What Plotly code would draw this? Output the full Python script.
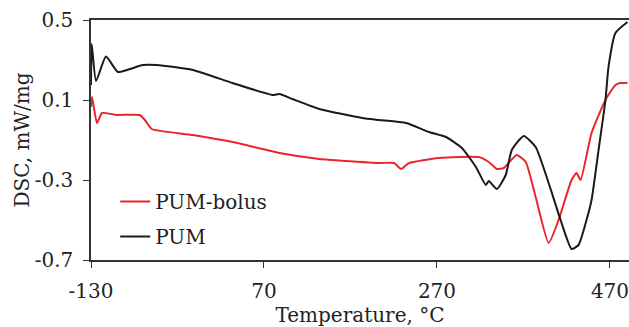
import plotly.graph_objects as go

# PUM (black)
pum_t = [-130, -129.2, -124.2, -112.7, -98.9, -85, -70.1, -53.9, -12.4, 33.7, 79.8, 87.9, 102.9,
         134, 183.5, 203.1, 234.3, 260.8, 280.4, 298.8, 315.0, 326.5, 329.9, 339.2, 349.5, 356.5,
         370.3, 384.1, 399.1, 412.9, 425.6, 433.7, 442.9, 448.7, 456.8, 464.8, 468.3, 476.3, 490.2]
pum_v = [0.175, 0.38, 0.195, 0.317, 0.24, 0.255, 0.275, 0.275, 0.25, 0.185, 0.125, 0.13, 0.105,
         0.055, 0.01, 0.0, -0.015, -0.06, -0.085, -0.14, -0.235, -0.325, -0.305, -0.345, -0.275,
         -0.15, -0.08, -0.135, -0.315, -0.5, -0.645, -0.625, -0.5, -0.4, -0.15, 0.1, 0.265, 0.435,
         0.49]

# PUM-bolus (red)
bolus_t = [-130, -128.8, -123.1, -117.3, -100, -73.5, -67.7, -59.7, -12.4, 33.7, 87.9, 134, 149,
           203.1, 220.4, 228.5, 237.7, 272.3, 318.4, 329.9, 339.2, 347.2, 362.2, 372.6, 384.1,
           399.1, 410.6, 425.6, 431.4, 436.0, 448.7, 464.8, 476.3, 482, 490.2]
bolus_v = [0.065, 0.115, -0.015, 0.035, 0.025, 0.025, 0.0, -0.045, -0.075, -0.11, -0.165, -0.195,
           -0.2, -0.215, -0.215, -0.245, -0.215, -0.19, -0.185, -0.21, -0.245, -0.24, -0.175,
           -0.21, -0.385, -0.615, -0.5, -0.3, -0.265, -0.3, -0.065, 0.1, 0.175, 0.185, 0.185]

x_ticks = [-130, 70, 270, 470]
y_ticks = [0.5, 0.1, -0.3, -0.7]
y_tick_text = ["0.5", "0.1", "-0.3", "-0.7"]

font_family = "DejaVu Serif, Liberation Serif, serif"

fig = go.Figure()
fig.add_trace(go.Scatter(x=bolus_t, y=bolus_v, mode="lines", name="PUM-bolus",
                         line=dict(color="#e8262b", width=2, shape="spline", smoothing=0.5),
                         legendgroup="a"))
fig.add_trace(go.Scatter(x=pum_t, y=pum_v, mode="lines", name="PUM",
                         line=dict(color="#1a1a1a", width=2, shape="spline", smoothing=0.5),
                         legendgroup="b"))

fig.update_layout(
    width=629, height=327,
    margin=dict(l=91, r=0, t=20, b=67),
    paper_bgcolor="white", plot_bgcolor="white",
    font=dict(family=font_family, size=20, color="#222"),
    showlegend=True,
    legend=dict(x=0.045, y=0.325, xanchor="left", yanchor="top", bgcolor="rgba(0,0,0,0)",
                tracegroupgap=6, font=dict(size=20)),
    xaxis=dict(range=[-130, 492], tickvals=x_ticks, ticktext=[str(v) for v in x_ticks],
               showgrid=False, zeroline=False, showline=True, linecolor="#333", linewidth=1.5,
               mirror=True, ticks="outside", ticklen=6, tickcolor="#333",
               ticklabelstandoff=6, ticklabeloverflow="allow",
               title=dict(text="Temperature, °C", standoff=2, font=dict(size=20))),
    yaxis=dict(range=[-0.7, 0.5], tickvals=y_ticks, ticktext=y_tick_text,
               showgrid=False, zeroline=False, showline=True, linecolor="#333", linewidth=1.5,
               ticks="outside", ticklen=6, tickcolor="#333", ticklabelstandoff=6,
               title=dict(text="DSC, mW/mg", standoff=0, font=dict(size=20))),
)

fig.write_html("out.html")
